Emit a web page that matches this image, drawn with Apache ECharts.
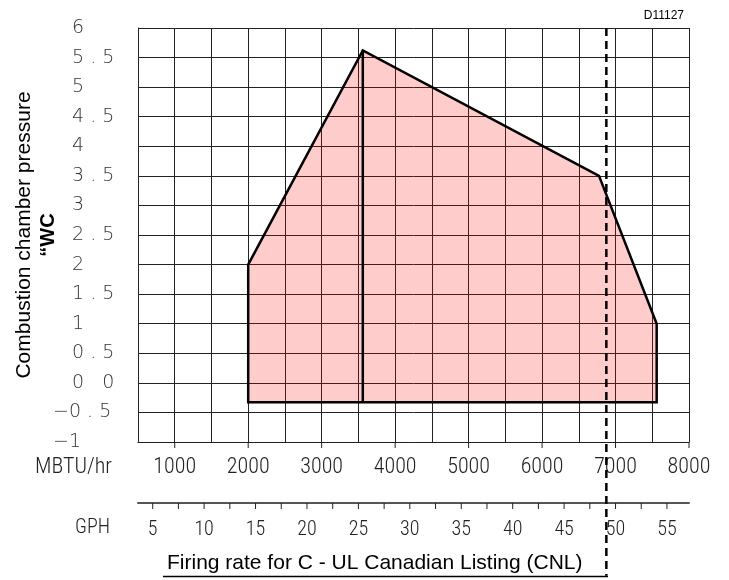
<!DOCTYPE html>
<html><head><meta charset="utf-8">
<script src="https://cdn.jsdelivr.net/npm/echarts@6/dist/echarts.min.js"></script>
<style>html,body{margin:0;padding:0;background:#fff}#c{width:729px;height:580px}</style>
</head><body><div id="c"></div>
<script>
// ---- data ----
const xMin = 500, xMax = 8000, xStep = 500;
const yMin = -1, yMax = 6, yStep = 0.5;
const mbtuPerGph = 140;
const mbtuTicks = [1000, 2000, 3000, 4000, 5000, 6000, 7000, 8000];
const gphTicks = [5, 7.5, 10, 12.5, 15, 17.5, 20, 22.5, 25, 27.5, 30, 32.5, 35, 37.5, 40, 42.5, 45, 47.5, 50, 52.5, 55];
const gphLabels = [5, 10, 15, 20, 25, 30, 35, 40, 45, 50, 55];
const yTickValues = [6, 5.5, 5, 4.5, 4, 3.5, 3, 2.5, 2, 1.5, 1, 0.5, 0, -0.5, -1];
const yTickLabels = ['6', '5 . 5', '5', '4 . 5', '4', '3 . 5', '3', '2 . 5', '2', '1 . 5', '1', '0 . 5', '0   0', '\u22120 . 5', '\u22121'];
const envelopeX = [2000, 2000, 3560, 6775, 7560, 7560];
const envelopeY = [-0.33, 2.0, 5.62, 3.5, 1.0, -0.33];
const dividerX = [3560, 3560];
const dividerY = [-0.33, 5.62];
const limitX = [6875, 6875];
const limitY = [6, -3.26];
const zoneLabel = [[5000, 2.4]];
const zoneName = 'A';

const narrow = '"Roboto Condensed", "Liberation Sans Narrow", "DejaVu Sans Condensed", "Noto Sans", sans-serif';
const narrowWeight = '300 condensed';
const yFont = '"DejaVu Sans", sans-serif';
const arial = '"Liberation Sans", Arial, sans-serif';
const gphAxisOffset = 61;
const tickLen = 6;

function yLabel(v) {
  for (let i = 0; i < yTickValues.length; i++) {
    if (Math.abs(yTickValues[i] - v) < 1e-6) return yTickLabels[i];
  }
  return '';
}

function tickRenderer(dy) {
  return function (params, api) {
    const c = api.coord([api.value(0), api.value(1)]);
    return {type: 'line', shape: {x1: c[0], y1: c[1] + dy, x2: c[0], y2: c[1] + dy + tickLen},
            style: {stroke: '#222', lineWidth: 1}};
  };
}

const chart = echarts.init(document.getElementById('c'), null, {renderer: 'canvas'});
const option = {
  backgroundColor: '#fff',
  animation: false,
  title: [
    {text: 'Firing rate for C - UL Canadian Listing (CNL)', left: 162, top: 548,
     textStyle: {fontFamily: arial, fontSize: 21, fontWeight: 'normal', color: '#000'}},
    {text: 'D11127', right: 40, top: 5,
     textStyle: {fontFamily: arial, fontSize: 12, fontWeight: 'normal', color: '#000'}}
  ],
  graphic: [
    {type: 'line', shape: {x1: 163, y1: 576.5, x2: 608, y2: 576.5}, style: {stroke: '#000', lineWidth: 1.5}}
  ],
  grid: {left: 138, right: 40, top: 28, bottom: 138, containLabel: false, outerBoundsMode: 'none'},
  xAxis: [
    {type: 'value', min: xMin, max: xMax, interval: xStep, position: 'bottom',
     axisLine: {show: true, onZero: false, lineStyle: {color: '#222', width: 1}},
     axisTick: {show: false},
     splitLine: {show: true, lineStyle: {color: '#222', width: 1}},
     axisLabel: {customValues: mbtuTicks, margin: 14, fontSize: 22, fontFamily: narrow, fontWeight: narrowWeight,
       color: '#222', formatter: v => String(v)},
     name: 'MBTU/hr', nameLocation: 'start', nameGap: 26, nameMoveOverlap: false,
     nameTextStyle: {fontSize: 22, fontFamily: narrow, fontWeight: narrowWeight, color: '#222',
       verticalAlign: 'top', lineHeight: 22, padding: [14, 0, 0, 0]}},
    {type: 'value', min: xMin / mbtuPerGph, max: xMax / mbtuPerGph, position: 'bottom', offset: gphAxisOffset,
     axisLine: {show: true, onZero: false, lineStyle: {color: '#555', width: 2}},
     axisTick: {show: false},
     splitLine: {show: false},
     axisLabel: {customValues: gphLabels, margin: 17, fontSize: 20, fontFamily: narrow, fontWeight: narrowWeight,
       color: '#222', formatter: v => String(v)},
     name: 'GPH', nameLocation: 'start', nameGap: 28, nameMoveOverlap: false,
     nameTextStyle: {fontSize: 20, fontFamily: narrow, fontWeight: narrowWeight, color: '#222',
       verticalAlign: 'top', lineHeight: 20, padding: [15, 0, 0, 0]}}
  ],
  yAxis: [
    {type: 'value', min: yMin, max: yMax, interval: yStep,
     axisLine: {show: true, onZero: false, lineStyle: {color: '#222', width: 1}},
     axisTick: {show: false},
     splitLine: {show: true, lineStyle: {color: '#222', width: 1}},
     axisLabel: {align: 'left', margin: 66, fontSize: 19, fontFamily: yFont, fontWeight: 300, color: '#333',
       formatter: v => (v >= 0 ? yLabel(v) : '')},
     name: '{t|Combustion chamber pressure}\n{u|\u201cWC}', nameLocation: 'middle', nameGap: 78, nameRotate: 90,
     nameMoveOverlap: false,
     nameTextStyle: {rich: {
       t: {fontSize: 21, fontFamily: arial, color: '#000', lineHeight: 24},
       u: {fontSize: 20, fontFamily: arial, fontWeight: 'bold', color: '#000', lineHeight: 24}
     }}},
    {type: 'value', min: yMin, max: yMax, interval: yStep, position: 'left',
     axisLine: {show: false}, axisTick: {show: false}, splitLine: {show: false},
     axisLabel: {align: 'left', margin: 85, fontSize: 19, fontFamily: yFont, fontWeight: 300, color: '#333',
       formatter: v => (v < 0 ? yLabel(v) : '')}}
  ],
  series: [
    {type: 'custom', xAxisIndex: 0, yAxisIndex: 0, z: 3,
     data: envelopeX.map((x, i) => [x, envelopeY[i]]),
     renderItem: function (params, api) {
       if (params.dataIndex !== 0) return null;
       const pts = envelopeX.map((x, i) => api.coord([x, envelopeY[i]]));
       return {type: 'polygon', shape: {points: pts},
               style: {fill: 'rgba(255,0,0,0.2)', stroke: '#000', lineWidth: 2.5, lineJoin: 'miter'}};
     }},
    {type: 'line', xAxisIndex: 0, yAxisIndex: 0, z: 4, symbol: 'none',
     data: dividerX.map((x, i) => [x, dividerY[i]]),
     lineStyle: {color: '#000', width: 2.5}},
    {type: 'custom', xAxisIndex: 0, yAxisIndex: 0, z: 6, clip: false,
     data: limitX.map((x, i) => [x, limitY[i]]),
     renderItem: function (params, api) {
       if (params.dataIndex !== 0) return null;
       const a = api.coord([limitX[0], limitY[0]]);
       const b = api.coord([limitX[1], limitY[1]]);
       return {type: 'line', shape: {x1: a[0], y1: a[1], x2: b[0], y2: b[1]},
               style: {stroke: '#000', lineWidth: 2.5, lineDash: [8, 5]}};
     }},
    {type: 'custom', xAxisIndex: 0, yAxisIndex: 0, z: 5, clip: false,
     data: mbtuTicks.map(v => [v, yMin]), renderItem: tickRenderer(0)},
    {type: 'custom', xAxisIndex: 1, yAxisIndex: 0, z: 5, clip: false,
     data: gphTicks.map(v => [v, yMin]), renderItem: tickRenderer(gphAxisOffset)},
    {type: 'scatter', xAxisIndex: 0, yAxisIndex: 0, z: 8, symbolSize: 1,
     itemStyle: {opacity: 0}, data: zoneLabel,
     label: {show: true, position: 'inside', formatter: zoneName, fontSize: 37, fontWeight: 'bold',
       fontFamily: arial, color: '#000', backgroundColor: '#ffcccc', padding: [5, 12, 5, 12], lineHeight: 37}}
  ]
};
chart.setOption(option);
</script>
</body></html>
